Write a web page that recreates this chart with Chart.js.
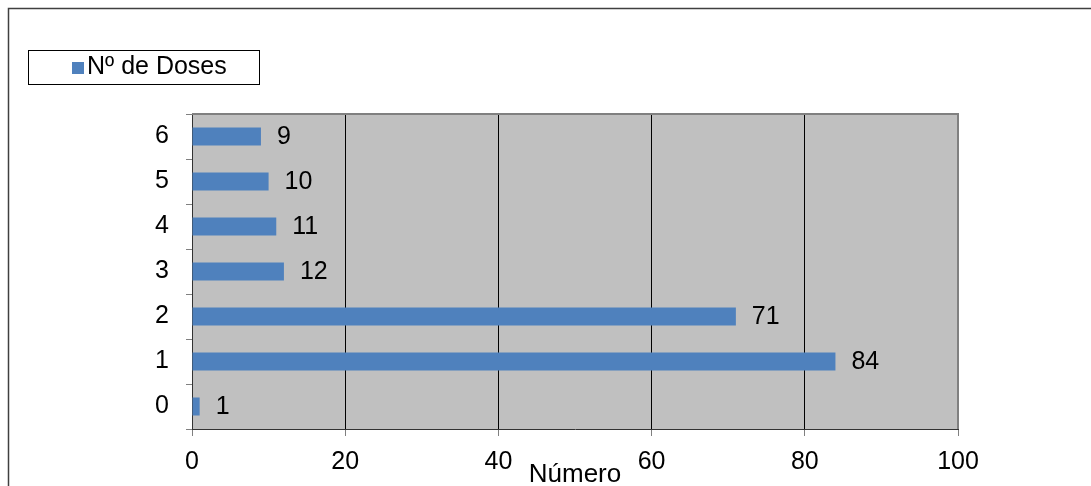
<!DOCTYPE html>
<html>
<head>
<meta charset="utf-8">
<script src="https://cdn.jsdelivr.net/npm/chart.js@4"></script>
<style>
  body { margin: 0; background: #fff; }
  canvas { display: block; }
</style>
</head>
<body>
<canvas id="myChart" width="1091" height="486"></canvas>
<script>
  // doses per person
  const categories = ['0', '1', '2', '3', '4', '5', '6']
  const doses = [1, 84, 71, 12, 11, 10, 9]
  const xTicks = [0, 20, 40, 60, 80, 100]
  const seriesName = 'Nº de Doses'
  const axisTitle = 'Número'

  const barColor = '#4F81BD'
  const fontFamily = "'Liberation Sans', Arial, sans-serif"

  Chart.defaults.font.family = fontFamily
  Chart.defaults.font.size = 25
  Chart.defaults.color = '#000'

  // gray plot area, frame and the boxed legend
  const frame = {
    id: 'frame',
    beforeDraw(chart) {
      const ctx = chart.ctx
      const a = chart.chartArea
      ctx.save()
      ctx.fillStyle = '#fff'
      ctx.fillRect(0, 0, chart.width, chart.height)
      ctx.fillStyle = '#C0C0C0'
      ctx.fillRect(a.left, a.top, a.right - a.left, a.bottom - a.top)
      ctx.restore()
    },
    afterDatasetsDraw(chart) {
      const ctx = chart.ctx
      const a = chart.chartArea
      ctx.save()
      ctx.strokeStyle = '#808080'
      ctx.lineWidth = 2
      ctx.beginPath()
      ctx.moveTo(a.left, a.top)
      ctx.lineTo(a.right, a.top)
      ctx.lineTo(a.right, a.bottom)
      ctx.stroke()

      // value labels next to each bar
      ctx.fillStyle = '#000'
      ctx.font = '25px ' + fontFamily
      ctx.textAlign = 'left'
      ctx.textBaseline = 'middle'
      const meta = chart.getDatasetMeta(0)
      meta.data.forEach((bar, i) => {
        ctx.fillText(doses[i], bar.x + 16, bar.y + 1)
      })
      ctx.restore()
    },
    afterDraw(chart) {
      const ctx = chart.ctx
      ctx.save()
      // outer border
      ctx.strokeStyle = '#404040'
      ctx.lineWidth = 1.5
      ctx.strokeRect(8.5, 8.5, 1200, 600)

      // legend
      ctx.strokeStyle = '#000'
      ctx.lineWidth = 1
      ctx.strokeRect(28.5, 50.5, 231, 34)
      ctx.fillStyle = chart.data.datasets[0].backgroundColor
      ctx.fillRect(72, 62, 12, 12)
      ctx.fillStyle = '#000'
      ctx.font = '25px ' + fontFamily
      ctx.textAlign = 'left'
      ctx.textBaseline = 'middle'
      ctx.fillText(chart.data.datasets[0].label, 87, 67)
      ctx.restore()
    }
  }

  const ctx = document.getElementById('myChart')

  new Chart(ctx, {
    type: 'bar',
    data: {
      labels: categories,
      datasets: [{
        label: seriesName,
        data: doses,
        backgroundColor: barColor,
        borderWidth: 0,
        categoryPercentage: 1,
        barPercentage: 0.4
      }]
    },
    options: {
      indexAxis: 'y',
      responsive: false,
      animation: false,
      devicePixelRatio: 1,
      layout: { padding: { top: 114, right: 133, left: 0, bottom: 0 } },
      scales: {
        x: {
          min: 0,
          max: 100,
          afterBuildTicks(scale) {
            scale.ticks = xTicks.map(v => ({ value: v }))
          },
          afterFit(scale) { scale.height = 57 },
          border: { color: '#333', width: 1 },
          grid: {
            color: (c) => (c.tick && c.tick.value === 100 ? '#808080' : '#000'),
            tickColor: '#808080',
            tickLength: 7
          },
          ticks: { padding: 11, font: { size: 25 } },
          title: {
            display: true,
            text: axisTitle,
            font: { size: 26, lineHeight: 1 },
            padding: { top: 0, bottom: -2 }
          }
        },
        y: {
          reverse: true,
          afterFit(scale) { scale.width = 192 },
          border: { color: '#333', width: 1 },
          grid: {
            drawOnChartArea: false,
            color: '#808080',
            tickLength: 6
          },
          ticks: { padding: 17, font: { size: 25 } }
        }
      },
      plugins: {
        legend: { display: false },
        tooltip: { enabled: false }
      }
    },
    plugins: [frame]
  })
</script>
</body>
</html>
